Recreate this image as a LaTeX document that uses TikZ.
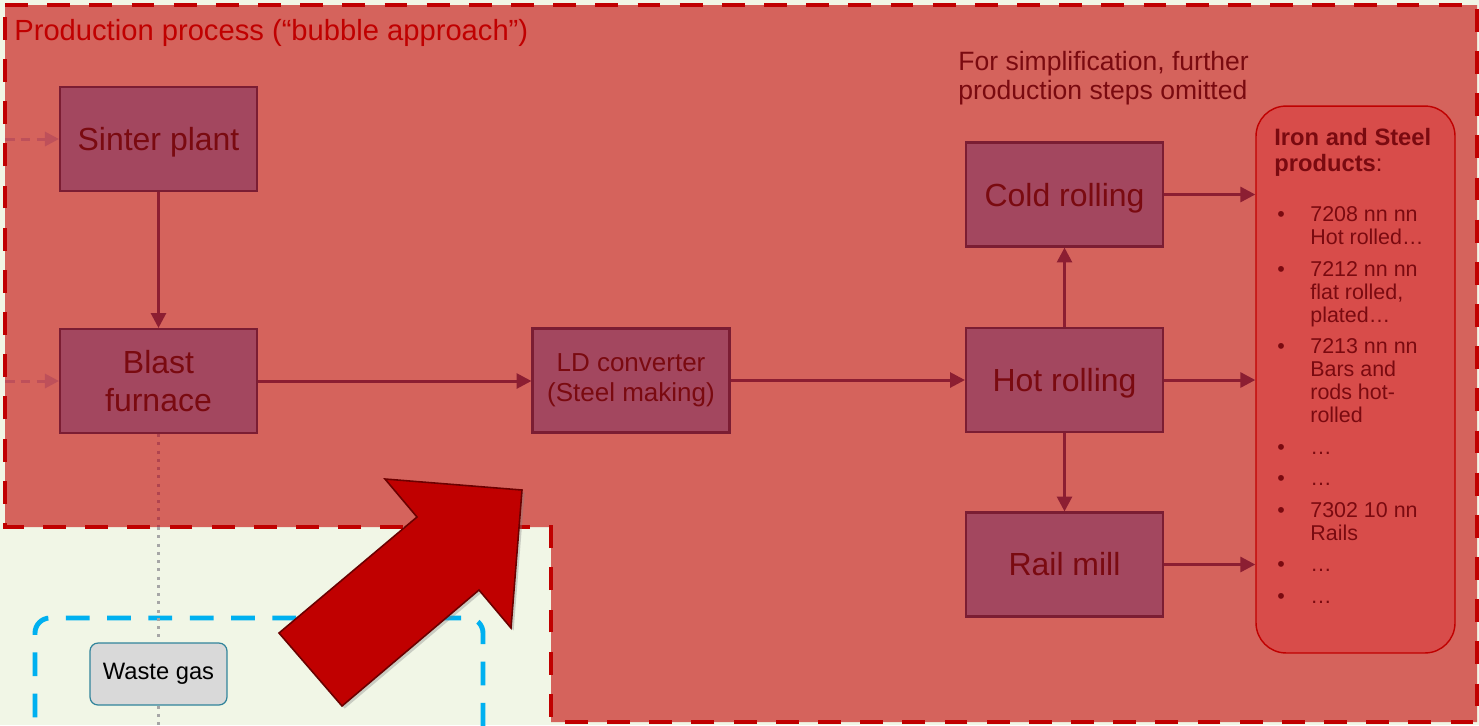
\documentclass[tikz,border=0pt]{standalone}
\usepackage{fontspec}
\setmainfont{Liberation Sans}
\usetikzlibrary{arrows.meta,shadows,calc}
\definecolor{bgc}{HTML}{F1F6E6}
\definecolor{regc}{HTML}{D5635C}
\definecolor{dred}{HTML}{C00000}
\definecolor{boxc}{HTML}{A3475F}
\definecolor{boxb}{HTML}{7B1D33}
\definecolor{txtc}{HTML}{7A0A10}
\definecolor{arrc}{HTML}{8C1E32}
\definecolor{feedc}{HTML}{BE505A}
\definecolor{prodc}{HTML}{D84C4A}
\definecolor{bluec}{HTML}{00B0F0}
\definecolor{wgb}{HTML}{31849B}
\definecolor{wgf}{HTML}{D9D9D9}
\definecolor{arrb}{HTML}{6B0000}
\definecolor{dotg}{HTML}{A6A6A6}
\definecolor{dotr}{HTML}{B0444F}
\newcommand{\pbul}{\hspace{0.06cm}{\fontsize{12.2}{12}\selectfont •}}
\begin{document}
\begin{tikzpicture}[x=0.02cm,y=-0.02cm,
  proc/.style={draw=boxb, line width=1.2pt, fill=boxc, minimum width=3.94cm, minimum height=2.08cm,
    align=center, text=txtc, font=\fontsize{18.2}{21.6}\selectfont, inner sep=2pt},
  flow/.style={draw=arrc, line width=1.7pt, -{Triangle[length=8.5pt,width=8.5pt]}},
  feed/.style={draw=feedc, line width=1.7pt, dash pattern=on 5.5pt off 3.5pt, -{Triangle[length=8pt,width=8pt]}},
  dotline/.style={line width=1.7pt, dash pattern=on 1.7pt off 3pt},
  region/.style={dred, line width=2.8pt, dash pattern=on 13pt off 11pt}
]
\clip (0,0) rectangle (1479,725);
\fill[bgc] (0,0) rectangle (1479,725);
% production region
\fill[regc] (5,5) -- (1477,5) -- (1477,722) -- (551,722) -- (551,527) -- (5,527) -- cycle;
% blue dashed area
\draw[bluec, line width=2.8pt, dash pattern=on 13.5pt off 10pt, rounded corners=0.3cm]
  (35,800) -- (35,618) -- (483,618) -- (483,800);

% title and note
\node[anchor=west, text=dred, font=\fontsize{16.6}{20}\selectfont, inner sep=0] (title) at (14,33)
  {Production process (“bubble approach”)};
\node[anchor=north west, align=left, text=txtc, font=\fontsize{15.1}{16.5}\selectfont, inner sep=0] (note) at (958,51)
  {For simplification, further\\production steps omitted};

% process boxes
\node[proc, text depth=0pt] (sinter) at (158.5,139) {Sinter plant};
\node[proc] (blast) at (158.5,381) {Blast\\furnace};
\node[proc, font=\fontsize{14.8}{17}\selectfont] (ld) at (631,380.5) {LD converter\\(Steel making)};
\node[proc, text depth=0pt] (cold) at (1064.5,194.5) {Cold rolling};
\node[proc, text depth=0pt] (hot) at (1064.5,380) {Hot rolling};
\node[proc] (rail) at (1064.5,564.5) {Rail mill};

% products box
\node[draw=dred, line width=0.8pt, fill=prodc, rounded corners=0.6cm,
  minimum width=3.98cm, minimum height=10.94cm] (prod) at (1355.5,379.5) {};
\node[anchor=base west, inner sep=0, text=txtc] (plist) at (1274,145.5) {%
\fontsize{12.2}{13.1}\selectfont
\begin{tabular}[t]{@{}p{0.72cm}@{}l@{}}
\multicolumn{2}{@{}l@{}}{\fontsize{13.5}{14.2}\selectfont\bfseries Iron and Steel}\\[1.1pt]
\multicolumn{2}{@{}l@{}}{\fontsize{13.5}{14.2}\selectfont\textbf{products}:}\\[15.5pt]
\pbul & 7208 nn nn\\
 & Hot rolled…\\[4.8pt]
\pbul & 7212 nn nn\\
 & flat rolled,\\
 & plated…\\[4.8pt]
\pbul & 7213 nn nn\\
 & Bars and\\
 & rods hot-\\
 & rolled\\[4.8pt]
\pbul & …\\[4.8pt]
\pbul & …\\[4.8pt]
\pbul & 7302 10 nn\\
 & Rails\\[4.8pt]
\pbul & …\\[4.8pt]
\pbul & …
\end{tabular}};

% waste gas
\node[draw=wgb, fill=wgf, line width=0.7pt, rounded corners=0.16cm, minimum width=2.74cm,
  minimum height=1.24cm, font=\fontsize{13.5}{16}\selectfont, text=black] (wg) at (158.5,674) {Waste gas};
\coordinate (redbot) at (158.5,527);
\coordinate (imgbot) at (158.5,740);
\draw[dotline, dotg] (redbot) -- (wg.north);
\draw[dotline, dotr] (blast.south) -- (redbot);
\draw[dotline, dotg] (wg.south) -- (imgbot);

% region border
\draw[region] (5,5) -- (1477,5) -- (1477,722) -- (551,722) -- (551,527) -- (5,527) -- cycle;

% feed arrows
\coordinate (in1) at (5,139);
\coordinate (in2) at (5,381);
\draw[feed] (in1) -- (sinter.west);
\draw[feed] (in2) -- (blast.west);

% flow arrows
\draw[flow] (sinter) -- (blast);
\draw[flow] (blast.east) -- (ld.west |- blast.east);
\draw[flow] (ld.east |- hot.west) -- (hot.west);
\draw[flow] (hot) -- (cold);
\draw[flow] (hot) -- (rail);
\draw[flow] (cold.east) -- (cold.east -| prod.west);
\draw[flow] (hot.east) -- (hot.east -| prod.west);
\draw[flow] (rail.east) -- (rail.east -| prod.west);

% big red arrow
\draw[fill=dred, draw=arrb, line width=0.9pt, line join=miter,
  drop shadow={shadow xshift=1.5pt, shadow yshift=-1.5pt, opacity=0.35}]
  (522,490) -- (385,479) -- (417,517) -- (279,633) -- (342,706) -- (479,590) -- (511,628) -- cycle;
\end{tikzpicture}
\end{document}
